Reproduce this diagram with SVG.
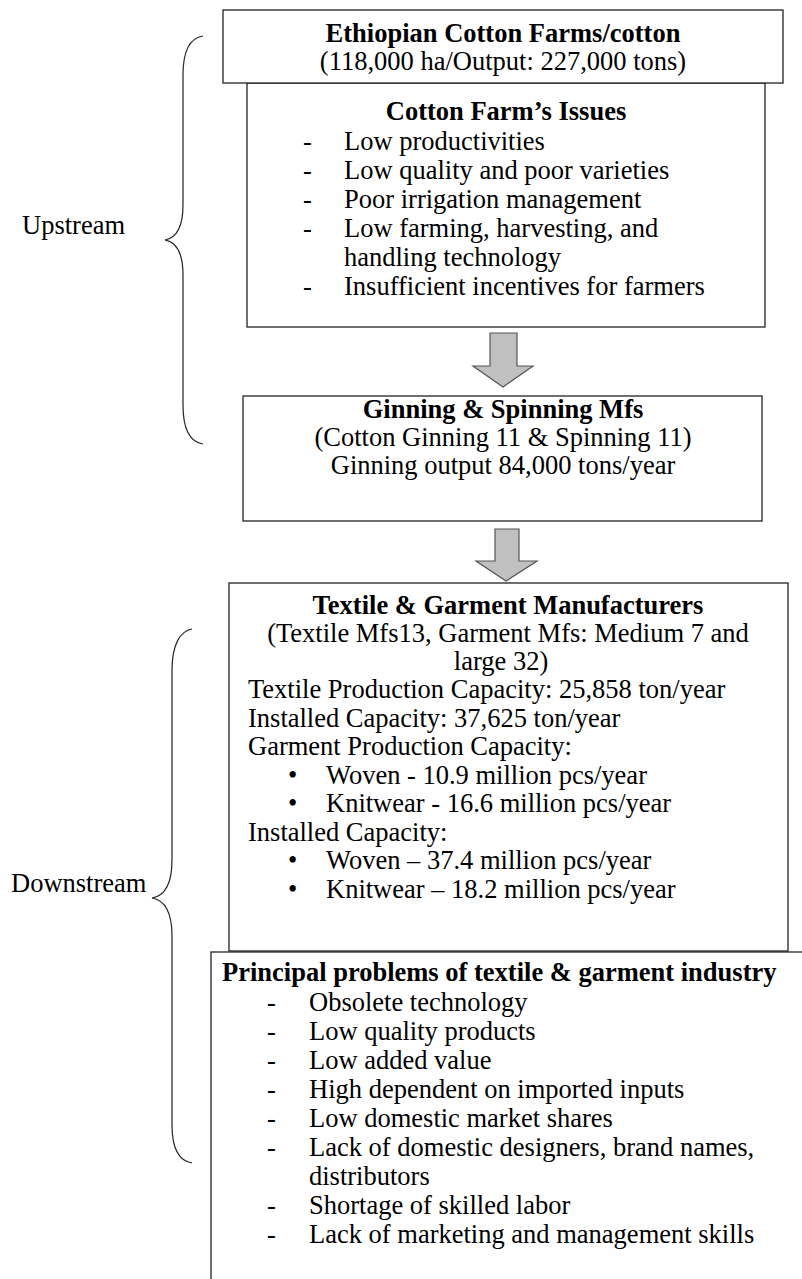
<svg xmlns="http://www.w3.org/2000/svg" width="802" height="1279" viewBox="0 0 802 1279">
  <style>
    text { font-family: "Liberation Serif", "Times New Roman", serif; font-size: 26.5px; fill: #000; }
    .b { font-weight: bold; }
    .c { text-anchor: middle; }
    .box { fill: #fff; stroke: #222; stroke-width: 1.3; }
    .brace { fill: none; stroke: #222; stroke-width: 1.2; }
    .arrow { fill: #c0c0c0; stroke: #555; stroke-width: 1.2; stroke-linejoin: miter; }
  </style>

  <rect width="802" height="1279" fill="#fff"/>

  <!-- stage labels and braces -->
  <g id="upstream">
    <path class="brace" d="M203,36 C190,38 183,50 183,75 L183,205 C183,228 176,238 165,240 C176,242 183,252 183,275 L183,405 C183,430 190,442 203,444"/>
    <text x="22" y="234">Upstream</text>
  </g>
  <g id="downstream">
    <path class="brace" d="M192,629 C180,631 172,645 172,670 L172,860 C172,885 164,896 152,898 C164,900 172,911 172,936 L172,1125 C172,1150 180,1161 192,1163"/>
    <text x="11" y="892">Downstream</text>
  </g>

  <!-- flow arrows -->
  <g id="connectors">
    <polygon class="arrow" points="490,333 517,333 517,366 533,366 503,387 473,366 490,366"/>
    <polygon class="arrow" points="495,529 519,529 519,561 537,561 506,581 476,561 495,561"/>
  </g>

  <g id="farm-issues">
    <rect class="box" x="247" y="83" width="518" height="244"/>
    <text class="b c" x="506" y="120">Cotton Farm’s Issues</text>
    <text x="303" y="150">-</text><text x="344" y="150">Low productivities</text>
    <text x="303" y="179">-</text><text x="344" y="179">Low quality and poor varieties</text>
    <text x="303" y="208">-</text><text x="344" y="208">Poor irrigation management</text>
    <text x="303" y="237">-</text><text x="344" y="237">Low farming, harvesting, and</text>
    <text x="344" y="266">handling technology</text>
    <text x="303" y="295">-</text><text x="344" y="295">Insufficient incentives for farmers</text>
  </g>

  <g id="cotton-farms">
    <rect class="box" x="223" y="10" width="560" height="73"/>
    <text class="b c" x="503" y="42">Ethiopian Cotton Farms/cotton</text>
    <text class="c" x="503" y="70">(118,000 ha/Output: 227,000 tons)</text>
  </g>

  <g id="ginning-spinning">
    <rect class="box" x="243" y="396" width="519" height="125"/>
    <text class="b c" x="503" y="418">Ginning &amp; Spinning Mfs</text>
    <text class="c" x="503" y="446">(Cotton Ginning 11 &amp; Spinning 11)</text>
    <text class="c" x="503" y="474">Ginning output 84,000 tons/year</text>
  </g>

  <g id="textile-garment">
    <rect class="box" x="229" y="583" width="559" height="368"/>
    <text class="b c" x="508" y="614">Textile &amp; Garment Manufacturers</text>
    <text class="c" x="508" y="642">(Textile Mfs13, Garment Mfs: Medium 7 and</text>
    <text class="c" x="501" y="670">large 32)</text>
    <text x="248" y="698">Textile Production Capacity: 25,858 ton/year</text>
    <text x="248" y="727">Installed Capacity: 37,625 ton/year</text>
    <text x="248" y="755">Garment Production Capacity:</text>
    <text x="288" y="784">•</text><text x="326" y="784">Woven - 10.9 million pcs/year</text>
    <text x="288" y="812">•</text><text x="326" y="812">Knitwear - 16.6 million pcs/year</text>
    <text x="248" y="841">Installed Capacity:</text>
    <text x="288" y="869">•</text><text x="326" y="869">Woven – 37.4 million pcs/year</text>
    <text x="288" y="898">•</text><text x="326" y="898">Knitwear – 18.2 million pcs/year</text>
  </g>

  <g id="industry-problems">
    <rect class="box" x="211" y="952" width="620" height="360"/>
    <text class="b" x="222" y="981">Principal problems of textile &amp; garment industry</text>
    <text x="267" y="1011">-</text><text x="309" y="1011">Obsolete technology</text>
    <text x="267" y="1040">-</text><text x="309" y="1040">Low quality products</text>
    <text x="267" y="1069">-</text><text x="309" y="1069">Low added value</text>
    <text x="267" y="1098">-</text><text x="309" y="1098">High dependent on imported inputs</text>
    <text x="267" y="1127">-</text><text x="309" y="1127">Low domestic market shares</text>
    <text x="267" y="1156">-</text><text x="309" y="1156">Lack of domestic designers, brand names,</text>
    <text x="309" y="1185">distributors</text>
    <text x="267" y="1214">-</text><text x="309" y="1214">Shortage of skilled labor</text>
    <text x="267" y="1243">-</text><text x="309" y="1243">Lack of marketing and management skills</text>
  </g>
</svg>
